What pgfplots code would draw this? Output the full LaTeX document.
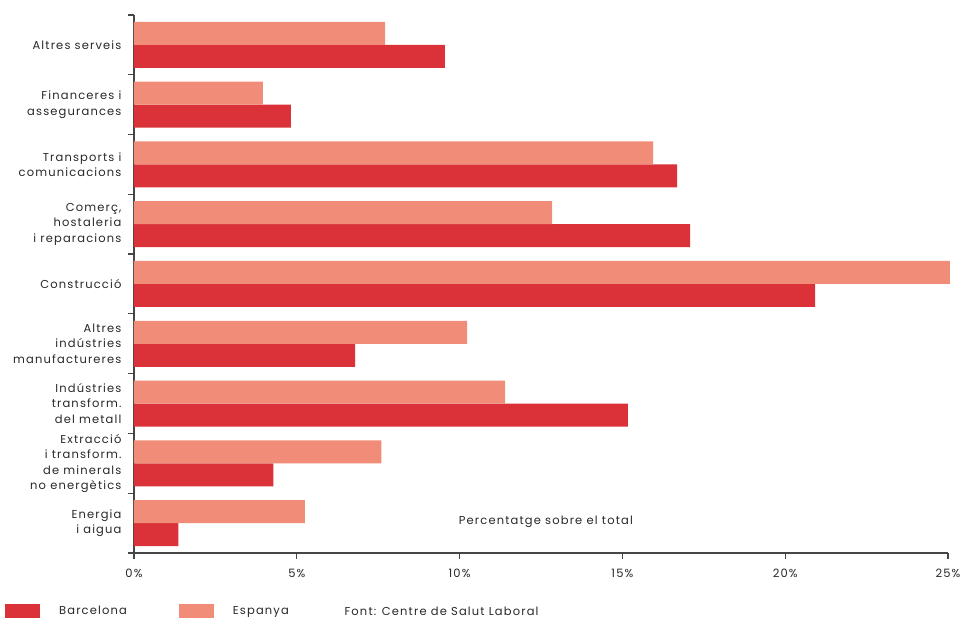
\documentclass[border=0pt]{standalone}
\usepackage{pgfplots}
\pgfplotsset{compat=1.18}
\usepackage{fontspec}
\setmainfont{Poppins}[LetterSpace=10]

\definecolor{bcn}{RGB}{218,50,56}
\definecolor{esp}{RGB}{241,140,120}
\definecolor{axisgray}{RGB}{70,70,70}
\definecolor{txt}{RGB}{40,40,40}

% Shares by sector (index 8 = top row, 0 = bottom row)
\pgfplotstableread{
idx barcelona espanya
8   9.55  7.71
7   4.82  3.96
6   16.68 15.94
5   17.08 12.84
4   20.92 25.06
3   6.79  10.23
2   15.17 11.40
1   4.28  7.60
0   1.36  5.25
}\sectors

\newcommand{\lblfont}{\fontsize{11.5}{15.5}\selectfont}

\begin{document}
\begin{tikzpicture}
\begin{axis}[
  scale only axis,
  width=814pt, height=538pt,
  xbar, bar width=23pt,
  xmin=0, xmax=25,
  ymin=-0.5, ymax=8.5,
  axis x line=bottom, axis y line=left,
  axis line style={axisgray, line width=1.3pt, -},
  xtick={0,5,...,25},
  xticklabel={\pgfmathprintnumber{\tick}\%},
  /pgf/number format/assume math mode=true,
  ytick={0,...,8},
  yticklabels={{Energia\\i aigua},
               {Extracció\\i transform.\\de minerals\\no energètics},
               {Indústries\\transform.\\del metall},
               {Altres\\indústries\\manufactureres},
               {Construcció},
               {Comerç,\\hostaleria\\i reparacions},
               {Transports i\\comunicacions},
               {Financeres i\\assegurances},
               {Altres serveis}},
  minor ytick={-0.5,0.5,...,8.5},
  major y tick style={draw=none},
  minor y tick style={axisgray, line width=1.2pt},
  x tick style={axisgray, line width=1.2pt},
  tick align=outside,
  major tick length=6pt, minor tick length=6pt,
  yticklabel style={align=right, font=\lblfont, text=txt, xshift=-3pt},
  xticklabel style={font=\lblfont, text=txt, yshift=-7pt},
  clip=false,
  legend columns=2,
  legend style={draw=none, fill=none, at={(0,0)}, anchor=west,
    xshift=-132pt, yshift=-58pt,
    font=\lblfont, text=txt,
    /tikz/every even column/.append style={column sep=50pt}},
  legend image code/.code={\fill (0pt,-7pt) rectangle (35pt,7pt); \path (52pt,0pt);},
]
\addplot[fill=bcn, draw=none, bar shift=-11.5pt] table[x=barcelona, y=idx] {\sectors};
\addplot[fill=esp, draw=none, bar shift=11.5pt] table[x=espanya, y=idx] {\sectors};
\legend{Barcelona, Espanya}

\node[font=\lblfont, text=txt] at (axis description cs:0.506,0.058) {Percentatge sobre el total};
\node[font=\lblfont, text=txt, anchor=west] at ([xshift=207pt, yshift=-58pt]rel axis cs:0,0) {Font: Centre de Salut Laboral};
\end{axis}
\pgfresetboundingbox
\path ([xshift=-134pt,yshift=-69pt]current axis.south west) rectangle ([xshift=15pt,yshift=15pt]current axis.north east);
\end{tikzpicture}
\end{document}
